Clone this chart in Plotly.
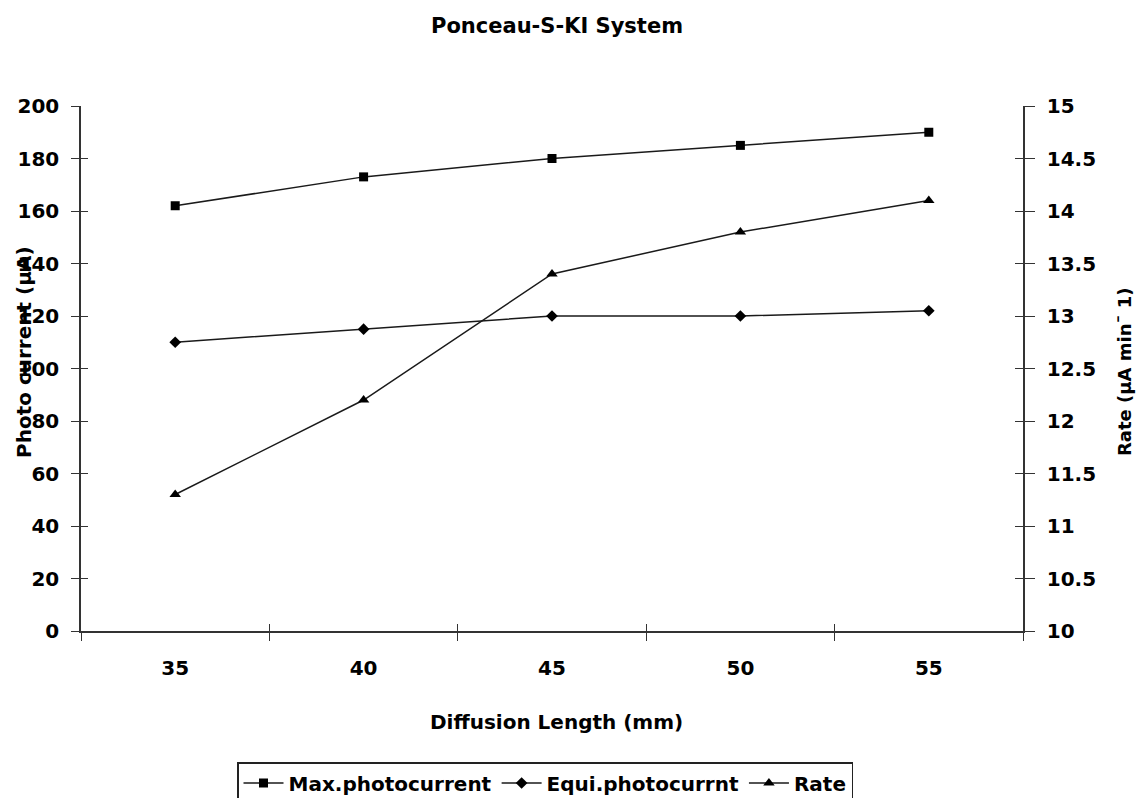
import plotly.graph_objects as go

categories = ["35", "40", "45", "50", "55"]
max_photocurrent = [162, 173, 180, 185, 190]
equi_photocurrent = [110, 115, 120, 120, 122]
rate = [11.3, 12.2, 13.4, 13.8, 14.1]

FONT = "DejaVu Sans"
W, H = 1141, 798
L, R, T, B = 81, 1023, 106, 631

fig = go.Figure()
line_style = dict(color="#1a1a1a", width=1.5)
fig.add_trace(go.Scatter(x=categories, y=max_photocurrent, name="Max.photocurrent",
                         mode="lines+markers", line=line_style,
                         marker=dict(symbol="square", size=9, color="black")))
fig.add_trace(go.Scatter(x=categories, y=equi_photocurrent, name="Equi.photocurrnt",
                         mode="lines+markers", line=line_style,
                         marker=dict(symbol="diamond", size=9, color="black")))
fig.add_trace(go.Scatter(x=categories, y=rate, name="Rate", yaxis="y2",
                         mode="lines+markers", line=line_style,
                         marker=dict(symbol="triangle-up", size=10, color="black")))
# empty helper traces so that inner halves of crossing ticks are drawn
fig.add_trace(go.Scatter(x=categories, y=[None] * len(categories), xaxis="x2", yaxis="y3",
                         mode="lines", showlegend=False, hoverinfo="skip"))
fig.add_trace(go.Scatter(x=categories, y=[None] * len(categories), yaxis="y4",
                         mode="lines", showlegend=False, hoverinfo="skip"))

tickfont = dict(family=FONT, size=20, color="black", weight="bold")

def px2x(px):
    return (px - L) / (R - L)

def px2y(py):
    return (B - py) / (B - T)

common = dict(tickcolor="#333", tickwidth=1.3, showgrid=False, zeroline=False)

fig.update_layout(
    width=W, height=H,
    margin=dict(l=L, r=W - R, t=T, b=H - B, autoexpand=False),
    paper_bgcolor="white", plot_bgcolor="white",
    showlegend=True,
    xaxis=dict(type="category", categoryorder="array", categoryarray=categories,
               range=[-0.5, 4.5], tickson="boundaries", ticks="outside", ticklen=8,
               showline=True, linecolor="#333", linewidth=1.5,
               tickfont=tickfont, ticklabelstandoff=18, **common),
    xaxis2=dict(type="category", categoryorder="array", categoryarray=categories,
                range=[-0.5, 4.5], tickson="boundaries", ticks="inside", ticklen=7,
                overlaying="x", anchor="y", side="bottom", showticklabels=False,
                showline=False, **common),
    yaxis=dict(range=[0, 200], dtick=20, ticks="outside", ticklen=8,
               showline=True, linecolor="#333", linewidth=1.5,
               tickfont=tickfont, ticklabelstandoff=8, **common),
    yaxis2=dict(range=[10, 15], dtick=0.5, overlaying="y", side="right",
                ticks="outside", ticklen=10,
                showline=True, linecolor="#333", linewidth=1.5,
                tickfont=tickfont, ticklabelstandoff=8, **common),
    yaxis3=dict(range=[0, 200], dtick=20, overlaying="y", side="left", anchor="x",
                ticks="inside", ticklen=7, showticklabels=False, showline=False, **common),
    yaxis4=dict(range=[10, 15], dtick=0.5, overlaying="y", side="right", anchor="x",
                ticks="inside", ticklen=8, showticklabels=False, showline=False, **common),
    legend=dict(orientation="h", x=px2x(237), y=px2y(762), xanchor="left", yanchor="top",
                bordercolor="#222", borderwidth=1.5, bgcolor="white",
                font=dict(family=FONT, size=20, color="black", weight="bold"),
                itemwidth=40, tracegroupgap=0),
    annotations=[
        dict(text="Ponceau-S-KI System", x=px2x(557), y=px2y(26), xref="paper", yref="paper",
             showarrow=False, xanchor="center", yanchor="middle",
             font=dict(family=FONT, size=21, color="black", weight="bold")),
        dict(text="Diffusion Length (mm)", x=px2x(556), y=px2y(722), xref="paper", yref="paper",
             showarrow=False, xanchor="center", yanchor="middle",
             font=dict(family=FONT, size=20, color="black", weight="bold")),
        dict(text="Photo current (µA)", x=px2x(24), y=px2y(352), xref="paper", yref="paper",
             showarrow=False, xanchor="center", yanchor="middle", textangle=-90,
             font=dict(family=FONT, size=20, color="black", weight="bold")),
        dict(text="Rate (µA min¯ 1)", x=px2x(1125), y=px2y(372), xref="paper", yref="paper",
             showarrow=False, xanchor="center", yanchor="middle", textangle=-90,
             font=dict(family=FONT, size=18, color="black", weight="bold")),
    ],
)

fig.write_html("out.html", config={"displayModeBar": False},
               post_script="document.body.style.margin='0';document.body.style.overflow='hidden';")
